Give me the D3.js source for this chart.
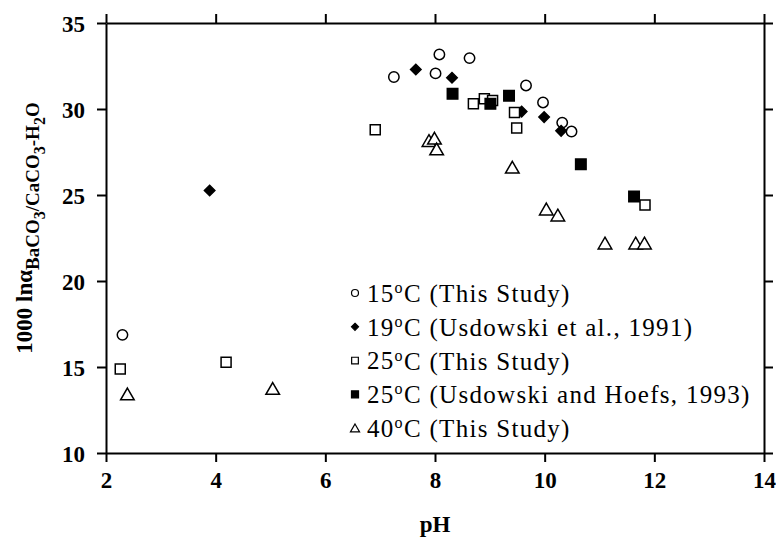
<!DOCTYPE html>
<html><head><meta charset="utf-8">
<script src="https://cdn.jsdelivr.net/npm/d3@7/dist/d3.min.js"></script>
<style>body{margin:0;background:#fff}svg{display:block}text{font-family:"Liberation Serif","Times New Roman",serif}</style>
</head><body><svg id="c" width="776" height="545"></svg>
<script>
const xTicks = [2,4,6,8,10,12,14];
const yTicks = [10,15,20,25,30,35];
const s15 = [[7.25,31.86],[8.08,33.17],[8.01,32.07],[8.63,32.96],[9.66,31.37],[9.97,30.38],[10.32,29.21],[10.49,28.69],[2.30,16.87]];
const s19 = [[3.89,25.26],[7.65,32.30],[8.31,31.82],[9.58,29.85],[9.99,29.53],[10.30,28.73]];
const s25 = [[6.91,28.79],[8.70,30.30],[8.90,30.59],[9.05,30.50],[9.45,29.80],[9.49,28.89],[11.83,24.42],[2.26,14.88],[4.19,15.27]];
const s25UH = [[8.32,30.88],[9.01,30.30],[9.35,30.77],[10.66,26.79],[11.63,24.91]];
const s40 = [[7.89,28.11],[7.99,28.25],[8.03,27.62],[9.41,26.56],[10.03,24.13],[10.24,23.78],[11.10,22.15],[11.66,22.15],[11.82,22.15],[2.39,13.38],[5.04,13.70]];
const legendLabels = ["15","19","25","25","40"];
const legendRefs = [" (This Study)"," (Usdowski et al., 1991)"," (This Study)"," (Usdowski and Hoefs, 1993)"," (This Study)"];

const svg = d3.select("#c");
const L=106,R=764,T=23,B=453;
const x = d3.scaleLinear().domain([2,14]).range([L,R]);
const y = d3.scaleLinear().domain([10,35]).range([B,T]);

const gx = svg.append("g").attr("transform",`translate(0,${B})`)
  .call(d3.axisBottom(x).tickValues(xTicks).tickSize(9).tickSizeOuter(0).tickPadding(5));
const gy = svg.append("g").attr("transform",`translate(${L},0)`)
  .call(d3.axisLeft(y).tickValues(yTicks).tickSize(9).tickSizeOuter(0).tickPadding(12));
const gt = svg.append("g").attr("transform",`translate(0,${T})`)
  .call(d3.axisTop(x).tickValues(xTicks).tickSize(9).tickSizeOuter(0).tickFormat(""));
const gr = svg.append("g").attr("transform",`translate(${R},0)`)
  .call(d3.axisRight(y).tickValues(yTicks).tickSize(9).tickSizeOuter(0).tickFormat(""));
[gx,gy,gt,gr].forEach(g=>{
  g.selectAll("path").attr("stroke","#000").attr("stroke-width",2);
  g.selectAll("line").attr("stroke","#000").attr("stroke-width",2);
  g.selectAll("text").attr("font-family","Liberation Serif, Times New Roman, serif")
   .attr("font-weight","bold").attr("font-size",23).attr("fill","#000");
});
gx.selectAll("text").attr("dy","0.9em");
gy.selectAll("text").attr("dy","0.35em");

const sym = {
  circle: d3.symbol().type(d3.symbolCircle),
  diamond: d3.symbol().type(d3.symbolDiamond2),
  square: d3.symbol().type(d3.symbolSquare),
  triangle: d3.symbol().type(d3.symbolTriangle)
};
const series = [
  {data:s15, type:"circle", size:85, fill:"#fff"},
  {data:s19, type:"diamond", size:70, fill:"#000"},
  {data:s25, type:"square", size:100, fill:"#fff"},
  {data:s25UH, type:"square", size:110, fill:"#000"},
  {data:s40, type:"triangle", size:80, fill:"#fff"}
];
series.forEach(s=>{
  svg.append("g").selectAll("path").data(s.data).join("path")
    .attr("d", sym[s.type].size(s.size)())
    .attr("transform", d=>`translate(${x(d[0])},${y(d[1])+(s.type==="triangle"?1:0)})`)
    .attr("fill", s.fill).attr("stroke","#000").attr("stroke-width",1.5);
});

// legend
const lg = svg.append("g");
const ly0 = 293, ldy = 33.8;
series.forEach((s,i)=>{
  const yy = ly0 + i*ldy;
  lg.append("path").attr("d", sym[s.type].size(s.size*0.45)())
    .attr("transform",`translate(355,${yy+(s.type==="triangle"?1:0)})`)
    .attr("fill", s.fill).attr("stroke","#000").attr("stroke-width",1.2);
  const t = lg.append("text").attr("x",367).attr("y",yy).attr("dy","0.35em")
    .attr("font-size",25).attr("letter-spacing",1.3).attr("fill","#000");
  t.append("tspan").text(legendLabels[i]);
  t.append("tspan").attr("font-size",16).attr("dy","-0.55em").text("o");
  t.append("tspan").attr("dy","0.36em").text("C" + legendRefs[i]);
});

// axis titles
svg.append("text").attr("x",(L+R)/2).attr("y",532).attr("text-anchor","middle")
  .attr("font-weight","bold").attr("font-size",23).text("pH");
const yt = svg.append("text").attr("transform","translate(32,228) rotate(-90)")
  .attr("text-anchor","middle").attr("font-weight","bold").attr("font-size",23);
yt.append("tspan").text("1000 ln\u03b1");
const parts = [["BaCO",7],["3",13],["/CaCO",7],["3",13],["-H",7],["2",13],["O",7]];
let prev = 0;
parts.forEach(p=>{
  yt.append("tspan").attr("font-size", p[1]===13?16:19).attr("dy", p[1]-prev).text(p[0]);
  prev = p[1];
});
</script></body></html>
